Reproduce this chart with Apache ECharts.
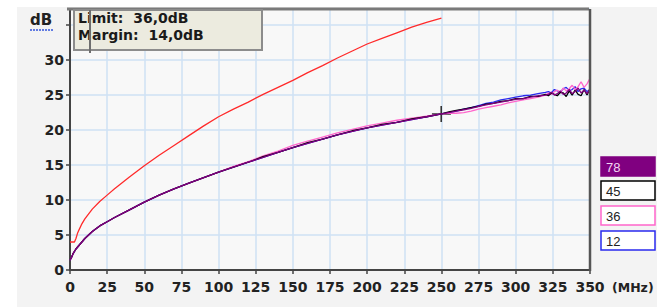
<!DOCTYPE html>
<html>
<head>
<meta charset="utf-8">
<script src="https://cdn.jsdelivr.net/npm/echarts@6/dist/echarts.min.js"></script>
<style>
html,body{margin:0;padding:0;background:#ffffff;}
#chart{width:657px;height:307px;}
</style>
</head>
<body>
<div id="chart"></div>
<script>
// ---- data ----
const xTicks = [0,25,50,75,100,125,150,175,200,225,250,275,300,325,350];
const yTicks = [0,5,10,15,20,25,30];
const limitFreq = [0,3,4,5,6,8,10,15,20,25,30,40,50,60,70,80,90,100,110,120,130,140,150,160,170,180,190,200,210,220,230,240,250];
const limitDb   = [4.0,4.0,4.5,5.2,5.7,6.6,7.3,8.7,9.8,10.7,11.6,13.3,14.9,16.4,17.8,19.2,20.6,21.9,23.0,24.0,25.1,26.1,27.1,28.2,29.2,30.3,31.3,32.3,33.1,33.9,34.7,35.4,36.0];
const measFreq = [0,1,2,4,6,8,10,15,20,25,30,40,50,60,70,80,90,100,110,120,130,140,150,160,170,180,190,200,210,220,230,240,250,255,260,265,270,275,280,285,290,295,300,305,310,315,320,322,324,326,328,330,332,334,336,338,340,342,344,346,348,350];
const pair78 = [1.4,1.8,2.3,3.0,3.5,4.0,4.5,5.5,6.3,6.9,7.5,8.6,9.7,10.7,11.6,12.4,13.2,14.0,14.7,15.4,16.1,16.8,17.5,18.1,18.7,19.3,19.8,20.3,20.7,21.1,21.5,21.9,22.3,22.5,22.7,22.9,23.1,23.4,23.6,23.8,24.0,24.2,24.4,24.5,24.7,24.9,25.0,25.1,25.4,25.0,25.2,25.6,25.1,25.3,25.8,25.2,25.5,26.0,25.3,25.7,25.2,25.8];
const pair45 = [1.4,1.8,2.3,3.0,3.5,4.0,4.5,5.5,6.3,6.9,7.5,8.6,9.7,10.7,11.6,12.4,13.2,14.0,14.7,15.4,16.2,16.8,17.5,18.2,18.7,19.3,19.9,20.3,20.8,21.1,21.6,21.9,22.3,22.6,22.8,23.0,23.2,23.4,23.7,23.8,24.1,24.2,24.5,24.5,24.8,24.8,25.1,24.9,25.3,25.1,24.9,25.4,25.3,24.8,25.6,25.0,25.7,25.1,24.9,25.8,25.0,25.9];
const pair36 = [1.4,1.8,2.3,3.0,3.5,4.0,4.5,5.5,6.3,6.9,7.5,8.6,9.7,10.7,11.6,12.4,13.2,14.0,14.8,15.5,16.3,17.0,17.8,18.4,19.0,19.6,20.1,20.6,21.0,21.4,21.7,22.0,22.3,22.4,22.4,22.5,22.7,23.0,23.2,23.4,23.6,23.9,24.1,24.3,24.5,24.7,25.0,25.3,25.1,25.5,25.7,25.3,26.0,25.6,25.9,26.4,25.8,26.2,26.9,26.1,26.6,27.4];
const pair12 = [1.4,1.8,2.3,3.0,3.5,4.0,4.5,5.5,6.3,6.9,7.5,8.6,9.7,10.7,11.6,12.4,13.2,14.0,14.7,15.4,16.1,16.8,17.5,18.1,18.7,19.3,19.8,20.3,20.7,21.1,21.5,21.9,22.3,22.5,22.7,23.0,23.2,23.5,23.8,24.0,24.3,24.5,24.7,24.9,25.0,25.2,25.4,25.5,25.3,25.8,25.6,25.4,25.9,26.1,25.6,25.8,26.2,25.5,25.9,26.0,25.5,25.8];
const pairNames = ['78','45','36','12'];
const pairColors = ['#800080','#000000','#ff66cc','#2a2aee'];
const markerFreq = 250, markerDb = 22.3;
const limitText = 'Limit:  36,0dB';
const marginText = 'Margin:  14,0dB';

const zip = (xs, ys) => xs.map((x, i) => [x, ys[i]]);
const chart = echarts.init(document.getElementById('chart'), null, {renderer: 'svg'});

const labelFont = {color: '#222', fontWeight: 'bold', fontSize: 14, fontFamily: 'DejaVu Sans'};
const lineSeries = (name, data, color, z) => ({
  name, type: 'line', data, showSymbol: false, symbol: 'none', z,
  lineStyle: {color, width: 1.3}, itemStyle: {color}, animation: false
});

const series = [
  lineSeries('limit', zip(limitFreq, limitDb), '#ff2a2a', 5),
  lineSeries(pairNames[3], zip(measFreq, pair12), pairColors[3], 6),
  lineSeries(pairNames[2], zip(measFreq, pair36), pairColors[2], 7),
  lineSeries(pairNames[1], zip(measFreq, pair45), pairColors[1], 8),
  lineSeries(pairNames[0], zip(measFreq, pair78), pairColors[0], 9)
];
series[3].markPoint = {
  symbol: 'path://M8.5,0h1.6v16h-1.6z M0,7.2h19v1.6h-19z',
  symbolSize: [19, 16],
  itemStyle: {color: '#333'},
  label: {show: false},
  data: [{coord: [markerFreq, markerDb]}],
  animation: false
};

// legend boxes (graphic)
const legendGraphics = [];
const boxY = [157, 181, 206, 231];
pairNames.forEach((n, i) => {
  const filled = i === 0;
  legendGraphics.push({
    type: 'rect', shape: {x: 601, y: boxY[i], width: 54, height: 19},
    style: {fill: filled ? pairColors[0] : '#ffffff', stroke: pairColors[i], lineWidth: 1.5}, z: 20
  });
  legendGraphics.push({
    type: 'text', x: 606, y: boxY[i] + 10,
    style: {text: n, fill: filled ? '#f3d6f3' : '#222', fontSize: 13, fontFamily: 'Liberation Sans', verticalAlign: 'middle'}, z: 21
  });
});

chart.setOption({
  animation: false,
  backgroundColor: '#ffffff',
  grid: {left: 70, right: 67, top: 9, bottom: 37, show: true, backgroundColor: '#f8f8f8', borderWidth: 0},
  xAxis: {
    type: 'value', min: 0, max: 350, interval: 25,
    axisLine: {show: true, lineStyle: {color: '#444', width: 2}},
    axisTick: {show: true, length: 4, inside: false, lineStyle: {color: '#444', width: 1.5}},
    axisLabel: Object.assign({margin: 10, formatter: v => xTicks.includes(v) ? String(v) : ''}, labelFont),
    splitLine: {show: true, lineStyle: {color: '#cfe2f4', width: 1.5}}
  },
  yAxis: {
    type: 'value', min: 0, max: 37.3, interval: 5,
    axisLine: {show: true, lineStyle: {color: '#444', width: 2}},
    axisTick: {show: true, length: 4, lineStyle: {color: '#444', width: 1.5}},
    axisLabel: Object.assign({margin: 6, showMaxLabel: false, formatter: v => yTicks.includes(v) ? String(v) : ''}, labelFont),
    splitLine: {show: true, lineStyle: {color: '#cfe2f4', width: 1.5}}
  },
  series,
  graphic: [
    {type: 'rect', shape: {x: 17, y: 7, width: 640, height: 300}, style: {fill: '#f3f3f3'}, z: -10, silent: true},
    // plot top and right borders
    {type: 'line', shape: {x1: 67, y1: 9, x2: 589, y2: 9}, style: {stroke: '#7a7a7a', lineWidth: 3}, z: 15},
    {type: 'line', shape: {x1: 590, y1: 9, x2: 590, y2: 271}, style: {stroke: '#555', lineWidth: 2.5}, z: 15},
    // info box
    {type: 'rect', shape: {x: 74, y: 10, width: 188, height: 40}, style: {fill: '#ecebdf', stroke: '#8c8c8c', lineWidth: 2}, z: 16},
    {type: 'text', x: 78, y: 18, style: {text: limitText, fill: '#1a1a1a', fontSize: 14, fontWeight: 'bold', fontFamily: 'DejaVu Sans', verticalAlign: 'middle'}, z: 17},
    {type: 'text', x: 78, y: 35, style: {text: marginText, fill: '#1a1a1a', fontSize: 14, fontWeight: 'bold', fontFamily: 'DejaVu Sans', verticalAlign: 'middle'}, z: 17},
    {type: 'line', shape: {x1: 90, y1: 10, x2: 90, y2: 53}, style: {stroke: '#6e6e6e', lineWidth: 2}, z: 18},
    // axis titles
    {type: 'text', x: 30, y: 20, style: {text: 'dB', fill: '#222', fontSize: 15, fontWeight: 'bold', fontFamily: 'DejaVu Sans', verticalAlign: 'middle'}, z: 17},
    {type: 'line', shape: {x1: 30, y1: 30, x2: 53, y2: 30}, style: {stroke: '#3355dd', lineWidth: 1.5, lineDash: [2, 1]}, z: 17},
    {type: 'text', x: 612, y: 287, style: {text: '(MHz)', fill: '#222', fontSize: 12.5, fontWeight: 'bold', fontFamily: 'DejaVu Sans', verticalAlign: 'middle'}, z: 17}
  ].concat(legendGraphics)
});
</script>
</body>
</html>
